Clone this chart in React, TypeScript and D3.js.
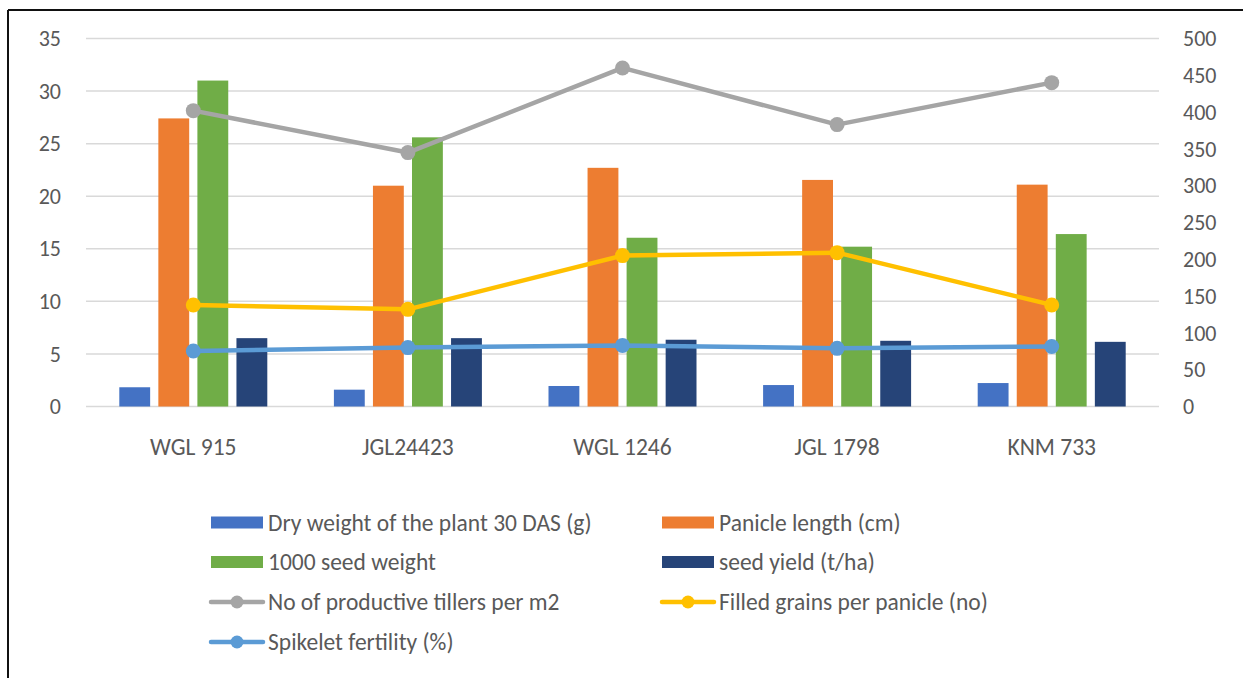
import * as d3 from "d3";

const categories = ["WGL 915", "JGL24423", "WGL 1246", "JGL 1798", "KNM 733"];

// bar series (left axis)
const dryWeight = [1.83, 1.6, 1.95, 2.04, 2.23];
const panicleLength = [27.4, 21.0, 22.7, 21.55, 21.1];
const seedWeight = [31.0, 25.6, 16.05, 15.2, 16.4];
const seedYield = [6.5, 6.5, 6.35, 6.25, 6.15];

// line series (right axis)
const tillers = [402, 345, 460, 383, 440];
const filledGrains = [138, 132, 205, 209, 138];
const spikeletFertility = [75.5, 80, 83, 79, 81.5];

const leftTicks = [0, 5, 10, 15, 20, 25, 30, 35];
const rightTicks = [0, 50, 100, 150, 200, 250, 300, 350, 400, 450, 500];

const barSeries = [
  { name: "Dry weight of the plant 30 DAS (g)", values: dryWeight, color: "#4472C4" },
  { name: "Panicle length (cm)", values: panicleLength, color: "#ED7D31" },
  { name: "1000 seed weight", values: seedWeight, color: "#70AD47" },
  { name: "seed yield (t/ha)", values: seedYield, color: "#264478" },
];

const lineSeries = [
  { name: "No of productive tillers per m2", values: tillers, color: "#A5A5A5" },
  { name: "Filled grains per panicle (no)", values: filledGrains, color: "#FFC000" },
  { name: "Spikelet fertility (%)", values: spikeletFertility, color: "#5B9BD5" },
];

const W = 1243;
const H = 678;
const plot = { left: 86, right: 1159, top: 38.5, bottom: 406.5 };
const font = "Calibri, Carlito, Lato, sans-serif";
const textColor = "#595959";

export default function App() {
  const x = d3
    .scaleBand<string>()
    .domain(categories)
    .range([plot.left, plot.right]);
  const inner = d3
    .scaleBand<number>()
    .domain(d3.range(barSeries.length))
    .range([-74, 74])
    .paddingInner(0.21);
  const yL = d3.scaleLinear().domain([0, 35]).range([plot.bottom, plot.top]);
  const yR = d3.scaleLinear().domain([0, 500]).range([plot.bottom, plot.top]);

  const cx = (c: string) => x(c)! + x.bandwidth() / 2;

  const line = d3
    .line<number>()
    .x((_, i) => cx(categories[i]))
    .y((d) => yR(d));

  const legendItems = [...barSeries.map((s) => ({ ...s, kind: "bar" })), ...lineSeries.map((s) => ({ ...s, kind: "line" }))];
  const legendCols = [211, 662];
  const legendRows = [522.5, 562, 602, 642];

  return (
    <svg
      width={W}
      height={H}
      viewBox={`0 0 ${W} ${H}`}
      style={{ position: "absolute", left: 0, top: 0, background: "#fff" }}
      fontFamily={font}
    >
      <rect x={0} y={0} width={W} height={H} fill="#fff" />
      {/* outer frame (only top and left visible) */}
      <line x1={8} x2={W + 5} y1={10} y2={10} stroke="#111" strokeWidth={2} />
      <line x1={8} x2={8} y1={10} y2={H + 5} stroke="#111" strokeWidth={2} />

      {/* gridlines */}
      {leftTicks.map((t) => (
        <line
          key={t}
          x1={plot.left}
          x2={plot.right}
          y1={yL(t)}
          y2={yL(t)}
          stroke="#D9D9D9"
          strokeWidth={1.5}
        />
      ))}

      {/* left axis labels */}
      {leftTicks.map((t) => (
        <text
          key={t}
          x={61}
          y={yL(t)}
          dy="0.35em"
          textAnchor="end"
          fontSize={22}
          fill={textColor}
        >
          {t}
        </text>
      ))}

      {/* right axis labels */}
      {rightTicks.map((t) => (
        <text
          key={t}
          x={1183}
          y={yR(t)}
          dy="0.35em"
          textAnchor="start"
          fontSize={22}
          fill={textColor}
        >
          {t}
        </text>
      ))}

      {/* category labels */}
      {categories.map((c) => (
        <text
          key={c}
          x={cx(c)}
          y={455}
          textAnchor="middle"
          fontSize={23.5}
          fill={textColor}
        >
          {c}
        </text>
      ))}

      {/* bars */}
      {barSeries.map((s, si) =>
        s.values.map((v, i) => (
          <rect
            key={`${si}-${i}`}
            x={cx(categories[i]) + inner(si)!}
            y={yL(v)}
            width={inner.bandwidth()}
            height={yL(0) - yL(v)}
            fill={s.color}
          />
        ))
      )}

      {/* lines */}
      {lineSeries.map((s) => (
        <g key={s.name}>
          <path
            d={line(s.values)!}
            fill="none"
            stroke={s.color}
            strokeWidth={4.5}
            strokeLinejoin="round"
            strokeLinecap="round"
          />
          {s.values.map((v, i) => (
            <circle key={i} cx={cx(categories[i])} cy={yR(v)} r={7.5} fill={s.color} />
          ))}
        </g>
      ))}

      {/* legend */}
      {legendItems.map((item, i) => {
        const lx = legendCols[i % 2];
        const ly = legendRows[Math.floor(i / 2)];
        return (
          <g key={item.name}>
            {item.kind === "bar" ? (
              <rect x={lx} y={ly - 6} width={52} height={12} fill={item.color} />
            ) : (
              <g>
                <line
                  x1={lx}
                  x2={lx + 52}
                  y1={ly}
                  y2={ly}
                  stroke={item.color}
                  strokeWidth={4.5}
                  strokeLinecap="round"
                />
                <circle cx={lx + 26} cy={ly} r={6.5} fill={item.color} />
              </g>
            )}
            <text
              x={lx + 57}
              y={ly}
              dy="0.35em"
              fontSize={23.5}
              fill={textColor}
            >
              {item.name}
            </text>
          </g>
        );
      })}
    </svg>
  );
}
